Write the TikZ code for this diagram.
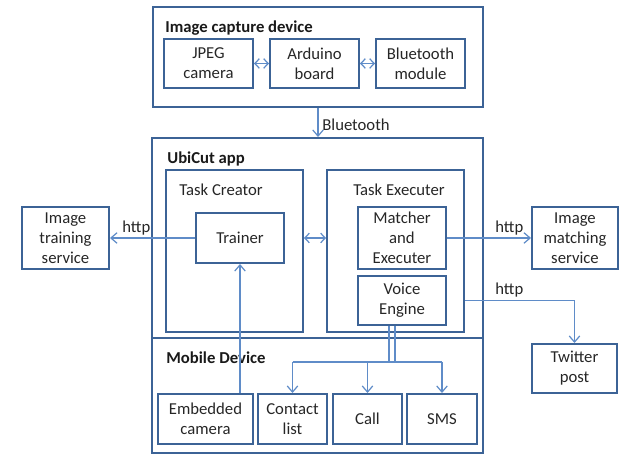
\documentclass[tikz,border=0pt]{standalone}
\usepackage{fontspec}
\setmainfont{Carlito}
\usetikzlibrary{calc}
\usetikzlibrary{arrows.meta}
\definecolor{boxblue}{HTML}{3C6396}
\definecolor{linkblue}{HTML}{5F8CC8}
\tikzset{
    box/.style={draw=boxblue, line width=1.1pt, inner sep=0pt, align=center,
        text=black!85, font=\fontsize{9.5}{11.4}\selectfont},
    title/.style={anchor=west, inner sep=0pt, text=black!90, font=\fontsize{9.5}{11.4}\selectfont\bfseries},
    caption/.style={anchor=west, inner sep=0pt, text=black!85, font=\fontsize{9.5}{11.4}\selectfont},
    link/.style={draw=linkblue, line width=0.7pt},
    tip/.style={link, -{Straight Barb[length=3.5pt, width=6pt]}},
    both/.style={link, {Straight Barb[length=2.6pt, width=5.5pt]}-{Straight Barb[length=2.6pt, width=5.5pt]}}
}

\begin{document}
\begin{tikzpicture}[x=0.02cm, y=-0.02cm]
            \useasboundingbox (0, 0) rectangle (619, 455);
            % image capture device
            \node[box, minimum width=330*0.02cm, minimum height=100*0.02cm] (capture) at (318, 57) {};
            \node[title] (capturetitle) at (165, 28) {Image capture device};
            \node[box, minimum width=89*0.02cm, minimum height=49*0.02cm] (jpeg) at (208.5, 63.5) {JPEG\\camera};
            \node[box, minimum width=89*0.02cm, minimum height=49*0.02cm] (arduino) at (314.5, 63.5) {Arduino\\board};
            \node[box, minimum width=89*0.02cm, minimum height=49*0.02cm] (btmod) at (420.5, 63.5) {Bluetooth\\module};
            \draw[both] (jpeg) -- (arduino);
            \draw[both] (arduino) -- (btmod);
            % UbiCut app and mobile device
            \node[box, minimum width=331*0.02cm, minimum height=315*0.02cm] (app) at (317.5, 295.5) {};
            \node[title] (apptitle) at (167, 159) {UbiCut app};
            \coordinate (divider) at (0, 338);
            \draw[draw=boxblue, line width=1.1pt] (app.west |- divider) -- (app.east |- divider);
            \node[title] (mobiletitle) at (166, 358) {Mobile Device};
            \draw[tip] (capture.south) -- (capture.south |- app.north);
            \node[caption] (btlabel) at (322, 125) {Bluetooth};
            % task creator
            \node[box, minimum width=137*0.02cm, minimum height=162*0.02cm] (creator) at (234.5, 251) {};
            \node[caption] (creatortitle) at (179, 190) {Task Creator};
            \node[box, minimum width=88*0.02cm, minimum height=50*0.02cm] (trainer) at (240, 238) {Trainer};
            % task executer
            \node[box, minimum width=137*0.02cm, minimum height=162*0.02cm] (executer) at (395.5, 251) {};
            \node[caption] (executertitle) at (353, 190) {Task Executer};
            \node[box, minimum width=88*0.02cm, minimum height=62*0.02cm] (matcher) at (402, 238) {Matcher\\and\\Executer};
            \node[box, minimum width=88*0.02cm, minimum height=49*0.02cm] (voice) at (402, 300.5) {Voice\\Engine};
            \draw[both] (creator.east |- trainer) -- (executer.west |- trainer);
            % outside services
            \node[box, minimum width=87*0.02cm, minimum height=62*0.02cm] (training) at (65.5, 238) {Image\\training\\service};
            \node[box, minimum width=86*0.02cm, minimum height=62*0.02cm] (matching) at (575, 238) {Image\\matching\\service};
            \node[box, minimum width=85*0.02cm, minimum height=49*0.02cm] (twitter) at (574.5, 368.5) {Twitter\\post};
            \draw[tip] (trainer) -- (training);
            \node[caption] (http1) at (122, 228) {http};
            \draw[tip] (matcher) -- (matching);
            \node[caption] (http2) at (495, 228) {http};
            \draw[tip] (voice -| executer.east) -- (voice -| twitter) -- (twitter.north);
            \node[caption] (http3) at (495, 290) {http};
            % mobile device parts
            \node[box, minimum width=95*0.02cm, minimum height=50*0.02cm] (camera) at (205.5, 419) {Embedded\\camera};
            \node[box, minimum width=69*0.02cm, minimum height=50*0.02cm] (contact) at (292.5, 419) {Contact\\list};
            \node[box, minimum width=69*0.02cm, minimum height=50*0.02cm] (call) at (367.5, 419) {Call};
            \node[box, minimum width=70*0.02cm, minimum height=50*0.02cm] (sms) at (442, 419) {SMS};
            \draw[tip] (camera.north -| trainer) -- (trainer.south);
            \coordinate (split) at (392, 362);
            \draw[link] (voice.south) ++(-13, 0) -- ++(0, 37);
            \draw[link] (voice.south) ++(-7, 0) -- ++(0, 37);
            \draw[link] (contact.north |- split) -- (sms.north |- split);
            \draw[tip] (contact.north |- split) -- (contact.north);
            \draw[tip] (call.north |- split) -- (call.north);
            \draw[tip] (sms.north |- split) -- (sms.north);
        \end{tikzpicture}
\end{document}
